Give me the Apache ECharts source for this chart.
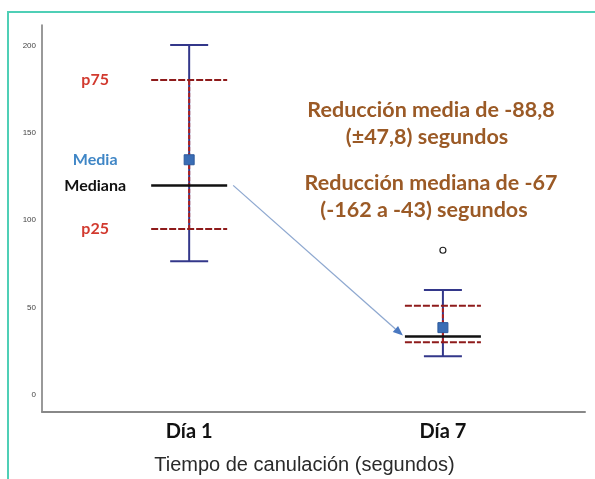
<!DOCTYPE html>
<html>
<head>
<meta charset="utf-8">
<script src="https://cdn.jsdelivr.net/npm/echarts@6/dist/echarts.min.js"></script>
<style>
  html, body { margin: 0; padding: 0; background: #fff; }
  #main { width: 595px; height: 479px; }
</style>
</head>
<body>
<div id="main"></div>
<script>
// data
var categories = ['Día 1', 'Día 7'];
var whiskerLow = [76.5, 22];
var p25 = [95, 30];
var medians = [120, 33.3];
var p75 = [180.5, 51];
var whiskerHigh = [200.5, 60];
var means = [134.7, 38.4];
var outliers = [[1, 82.8]];
var yTicks = [0, 50, 100, 150, 200];
var sideLabels = ['p75', 'Media', 'Mediana', 'p25'];
var notes = ['Reducción media de -88,8', '(±47,8) segundos', 'Reducción mediana de -67', '(-162 a -43) segundos'];

var chart = echarts.init(document.getElementById('main'));

var boxData = categories.map(function (c, i) {
    return [i, whiskerLow[i], p25[i], medians[i], p75[i], whiskerHigh[i], means[i]];
});

var NAVY = '#33378a';
var DRED = '#8e1b1b';

function hline(cx, y, half, style) {
    return { type: 'line', shape: { x1: cx - half, y1: y, x2: cx + half, y2: y }, style: style };
}

function renderBox(params, api) {
    var x = api.value(0);
    var pLow = api.coord([x, api.value(1)]);
    var pQ1 = api.coord([x, api.value(2)]);
    var pMed = api.coord([x, api.value(3)]);
    var pQ3 = api.coord([x, api.value(4)]);
    var pHigh = api.coord([x, api.value(5)]);
    var pMean = api.coord([x, api.value(6)]);
    var cx = pLow[0];
    var navy = { stroke: NAVY, lineWidth: 2 };
    var dashed = { stroke: DRED, lineWidth: 2, lineDash: [7, 2] };
    var kids = [
        { type: 'line', shape: { x1: cx, y1: pLow[1], x2: cx, y2: pHigh[1] }, style: navy },
        hline(cx, pLow[1], 19, navy),
        hline(cx, pHigh[1], 19, navy),
        { type: 'line', shape: { x1: cx, y1: pQ1[1], x2: cx, y2: pQ3[1] }, style: { stroke: '#b0201e', lineWidth: 2, lineDash: [4, 2] } },
        hline(cx, pQ3[1], 38, dashed),
        hline(cx, pQ1[1], 38, dashed),
        hline(cx, pMed[1], 38, { stroke: '#111', lineWidth: 2.5 }),
        { type: 'rect', shape: { x: cx - 5, y: pMean[1] - 5, width: 10, height: 10 }, style: { fill: '#3a6db5', stroke: '#2d5a9c', lineWidth: 1 } }
    ];
    if (params.dataIndex === 0) {
        var ys = [pQ3[1], pMean[1], pMed[1], pQ1[1]];
        var cols = ['#d23a2f', '#3f86c6', '#111', '#d23a2f'];
        sideLabels.forEach(function (t, k) {
            kids.push({
                type: 'text',
                style: {
                    text: t, x: cx - 94, y: ys[k], align: 'center', verticalAlign: 'middle',
                    fill: cols[k], font: 'bold 16px Lato'
                }
            });
        });
    }
    return { type: 'group', children: kids };
}

function renderArrow(params, api) {
    var a = api.coord([api.value(0), api.value(1)]);
    var b = api.coord([api.value(2), api.value(3)]);
    var x1 = a[0] + 44, y1 = a[1];
    var x2 = b[0] - 40, y2 = b[1] - 1;
    var ang = Math.atan2(y2 - y1, x2 - x1);
    var L = 10, W = 4;
    var bx = x2 - L * Math.cos(ang), by = y2 - L * Math.sin(ang);
    return {
        type: 'group',
        children: [
            { type: 'line', shape: { x1: x1, y1: y1, x2: bx, y2: by }, style: { stroke: '#8ea8d0', lineWidth: 1.3 } },
            {
                type: 'polygon',
                shape: { points: [[x2, y2], [bx - W * Math.sin(ang), by + W * Math.cos(ang)], [bx + W * Math.sin(ang), by - W * Math.cos(ang)]] },
                style: { fill: '#4a78c0' }
            }
        ]
    };
}

var noteFont = 'bold 21.5px Lato';

option = {
    backgroundColor: '#fff',
    animation: false,
    grid: { left: 42, right: 10, top: 25, bottom: 67, outerBoundsMode: 'none' },
    xAxis: {
        type: 'value',
        min: -0.58,
        max: 1.56,
        name: 'Tiempo de canulación (segundos)',
        nameLocation: 'middle',
        nameGap: 43,
        nameTextStyle: { color: '#2a2a2a', fontSize: 20, fontFamily: 'Liberation Sans', padding: [0, 18, 0, 0] },
        axisLine: { onZero: false, lineStyle: { color: '#888', width: 2 } },
        axisTick: { show: false },
        splitLine: { show: false },
        axisLabel: {
            customValues: [0, 1],
            margin: 10,
            color: '#111',
            fontSize: 20,
            fontWeight: 'bold',
            fontFamily: 'Lato',
            formatter: function (v) { return categories[Math.round(v)]; }
        }
    },
    yAxis: {
        type: 'value',
        min: -10,
        max: 212,
        axisLine: { show: true, onZero: false, lineStyle: { color: '#777', width: 1.5 } },
        axisTick: { show: false },
        splitLine: { show: false },
        axisLabel: {
            customValues: yTicks,
            margin: 6,
            color: '#444',
            fontSize: 8,
            fontFamily: 'Liberation Sans'
        }
    },
    graphic: [
        { type: 'rect', shape: { x: 8, y: 12, width: 600, height: 480 }, style: { fill: 'none', stroke: '#4fcfb6', lineWidth: 2 }, silent: true },
        { type: 'text', style: { text: notes[0], x: 431, y: 110, align: 'center', verticalAlign: 'middle', fill: '#9b5a26', font: noteFont } },
        { type: 'text', style: { text: notes[1], x: 427, y: 137, align: 'center', verticalAlign: 'middle', fill: '#9b5a26', font: noteFont } },
        { type: 'text', style: { text: notes[2], x: 431, y: 183, align: 'center', verticalAlign: 'middle', fill: '#9b5a26', font: noteFont } },
        { type: 'text', style: { text: notes[3], x: 424, y: 210, align: 'center', verticalAlign: 'middle', fill: '#9b5a26', font: noteFont } }
    ],
    series: [
        {
            name: 'arrow',
            type: 'custom',
            renderItem: renderArrow,
            data: [[0, medians[0], 1, medians[1]]],
            z: 1
        },
        {
            name: 'box',
            type: 'custom',
            renderItem: renderBox,
            data: boxData,
            z: 2
        },
        {
            name: 'outlier',
            type: 'scatter',
            symbol: 'circle',
            symbolSize: 6,
            itemStyle: { color: '#fff', borderColor: '#222', borderWidth: 1.2, opacity: 1 },
            data: outliers,
            z: 3
        }
    ]
};

chart.setOption(option);
</script>
</body>
</html>
